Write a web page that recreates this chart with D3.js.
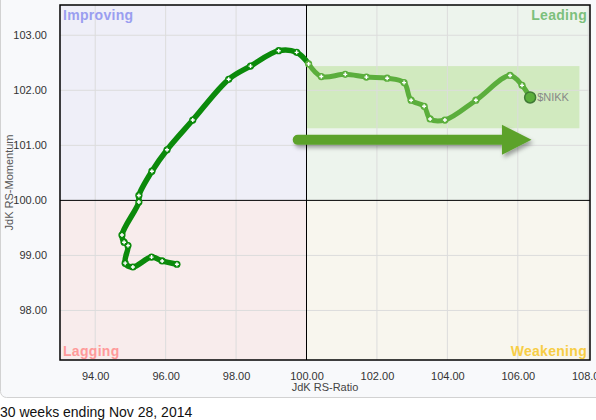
<!DOCTYPE html>
<html>
<head>
<meta charset="utf-8">
<title>RRG $NIKK</title>
<script src="https://cdn.jsdelivr.net/npm/d3@7"></script>
<style>
  body { margin: 0; background: #fff; font-family: "Liberation Sans", Arial, sans-serif; }
  svg { display: block; }
</style>
</head>
<body>
<div id="chart"></div>
<script>
// trail of weekly readings, oldest first (JdK RS-Ratio / JdK RS-Momentum)
var rsRatio = [96.32, 95.90, 95.60, 95.07, 94.85, 94.93, 94.82, 94.76, 95.24, 95.24,
               95.61, 96.04, 96.77, 97.79, 98.41, 99.21, 99.72, 100.06, 100.42, 101.10,
               101.70, 102.29, 102.77, 102.97, 103.34, 103.51, 103.93, 104.81, 105.78, 106.12, 106.35];
var rsMomentum = [98.84, 98.90, 98.97, 98.79, 98.86, 99.18, 99.24, 99.37, 99.97, 100.09,
                  100.53, 100.92, 101.46, 102.20, 102.44, 102.72, 102.69, 102.48, 102.25, 102.29,
                  102.24, 102.22, 102.14, 101.82, 101.71, 101.48, 101.46, 101.82, 102.27, 102.09, 101.87];
var symbol = "$NIKK";
var xTicks = [94, 96, 98, 100, 102, 104, 106, 108];
var yTicks = [98, 99, 100, 101, 102, 103];
var quadrants = ["Improving", "Leading", "Lagging", "Weakening"];
var caption = "30 weeks ending Nov 28, 2014";

var width = 596, height = 420;
var margin = {top: 5, right: 6, bottom: 60, left: 60};

var svg = d3.select("#chart").append("svg")
    .attr("width", width)
    .attr("height", height);

var defs = svg.append("defs");
var shadow = defs.append("filter").attr("id", "shadow")
    .attr("x", "-10%").attr("y", "-50%").attr("width", "120%").attr("height", "200%");
shadow.append("feDropShadow")
    .attr("dx", 2).attr("dy", 3).attr("stdDeviation", 2)
    .attr("flood-color", "#000").attr("flood-opacity", 0.35);

// outer panel
svg.append("rect")
    .attr("x", 0.5).attr("y", -20)
    .attr("width", 640).attr("height", 417.5)
    .attr("rx", 6)
    .attr("fill", "#f8f9fb")
    .attr("stroke", "#d2d2d2");

var x = d3.scaleLinear().domain([93, 108.05]).range([margin.left, 590]);
var y = d3.scaleLinear().domain([97.1, 103.55]).range([360, margin.top]);

var x0 = x.domain()[0], x1 = x.domain()[1], y0 = y.domain()[0], y1 = y.domain()[1];

// quadrant backgrounds
var quadFill = [
  {x0: x0, x1: 100, y0: 100, y1: y1, fill: "#efeff8"},
  {x0: 100, x1: x1, y0: 100, y1: y1, fill: "#edf4ed"},
  {x0: x0, x1: 100, y0: y0, y1: 100, fill: "#f8ecec"},
  {x0: 100, x1: x1, y0: y0, y1: 100, fill: "#f8f6ee"}
];
svg.selectAll(".quad").data(quadFill).enter().append("rect")
    .attr("x", function(d) { return x(d.x0); })
    .attr("y", function(d) { return y(d.y1); })
    .attr("width", function(d) { return x(d.x1) - x(d.x0); })
    .attr("height", function(d) { return y(d.y0) - y(d.y1); })
    .attr("fill", function(d) { return d.fill; });

// highlight band behind recent trail
svg.append("rect")
    .attr("x", x(100)).attr("y", y(102.44))
    .attr("width", x(107.75) - x(100))
    .attr("height", y(101.31) - y(102.44))
    .attr("fill", "#d1eabf");

// grid
svg.append("g").selectAll("line").data(xTicks.filter(function(t) { return t != 100 && t < x1; }))
  .enter().append("line")
    .attr("x1", function(d) { return x(d); }).attr("x2", function(d) { return x(d); })
    .attr("y1", y(y1)).attr("y2", y(y0))
    .attr("stroke", "#dcdcdc");
svg.append("g").selectAll("line").data(yTicks.filter(function(t) { return t != 100; }))
  .enter().append("line")
    .attr("x1", x(x0)).attr("x2", x(x1))
    .attr("y1", function(d) { return y(d); }).attr("y2", function(d) { return y(d); })
    .attr("stroke", "#dcdcdc");

// dividing lines
svg.append("line").attr("x1", x(100)).attr("x2", x(100)).attr("y1", y(y1)).attr("y2", y(y0))
    .attr("stroke", "#000");
svg.append("line").attr("x1", x(x0)).attr("x2", x(x1)).attr("y1", y(100)).attr("y2", y(100))
    .attr("stroke", "#000");

// frame
svg.append("rect")
    .attr("x", x(x0)).attr("y", y(y1))
    .attr("width", x(x1) - x(x0)).attr("height", y(y0) - y(y1))
    .attr("fill", "none").attr("stroke", "#000").attr("stroke-width", 1.5);

// quadrant labels
var qLabel = svg.append("g").style("font-weight", "bold").style("font-size", "14px")
    .style("letter-spacing", "0.3px");
qLabel.append("text").attr("x", x(x0) + 3).attr("y", y(y1) + 15).attr("fill", "#9a9ef0").text(quadrants[0]);
qLabel.append("text").attr("x", x(x1) - 3).attr("y", y(y1) + 15).attr("text-anchor", "end").attr("fill", "#7cc07c").text(quadrants[1]);
qLabel.append("text").attr("x", x(x0) + 3).attr("y", y(y0) - 4).attr("fill", "#ff9a9a").text(quadrants[2]);
qLabel.append("text").attr("x", x(x1) - 3).attr("y", y(y0) - 4).attr("text-anchor", "end").attr("fill", "#f7cd45").text(quadrants[3]);

// axes
var xAxis = svg.append("g")
    .attr("transform", "translate(0," + y(y0) + ")")
    .call(d3.axisBottom(x).tickValues(xTicks).tickFormat(d3.format(".2f")).tickSize(0).tickPadding(12));
var yAxis = svg.append("g")
    .attr("transform", "translate(" + x(x0) + ",0)")
    .call(d3.axisLeft(y).tickValues(yTicks).tickFormat(d3.format(".2f")).tickSize(0).tickPadding(13));
[xAxis, yAxis].forEach(function(a) {
  a.select(".domain").remove();
  a.selectAll("text").attr("fill", "#333").style("font-size", "11px")
    .style("font-family", "'Liberation Sans', Arial, sans-serif");
});

svg.append("text")
    .attr("x", (x(x0) + x(x1)) / 2).attr("y", 391)
    .attr("text-anchor", "middle").attr("fill", "#444").style("font-size", "11px")
    .text("JdK RS-Ratio");
svg.append("text")
    .attr("transform", "translate(13," + ((y(y0) + y(y1)) / 2) + ") rotate(-90)")
    .attr("text-anchor", "middle").attr("fill", "#555").style("font-size", "11px")
    .text("JdK RS-Momentum");

// big direction arrow
var ay = y(101.10), ax0 = x(99.75), axH = x(105.55), axT = x(106.39);
svg.append("path")
    .attr("d", "M" + (ax0) + "," + (ay - 5) +
               "L" + axH + "," + (ay - 5) +
               "L" + axH + "," + (ay - 15) +
               "L" + axT + "," + ay +
               "L" + axH + "," + (ay + 15) +
               "L" + axH + "," + (ay + 5) +
               "L" + ax0 + "," + (ay + 5) +
               "A5,5 0 0,1 " + ax0 + "," + (ay - 5) + "Z")
    .attr("fill", "#5ca22b")
    .attr("filter", "url(#shadow)");

// trail
var pts = rsRatio.map(function(v, i) { return {x: v, y: rsMomentum[i]}; });
var split = 17;
var dark = "#0b8a0b", light = "#5bae3c";
var line = d3.line()
    .x(function(d) { return x(d.x); })
    .y(function(d) { return y(d.y); })
    .curve(d3.curveCatmullRom.alpha(0.5));

svg.append("path").datum(pts.slice(split))
    .attr("d", line).attr("fill", "none").attr("stroke", light)
    .attr("stroke-width", 5).attr("stroke-linecap", "round").attr("stroke-linejoin", "round");
svg.append("path").datum(pts.slice(0, split + 1))
    .attr("d", line).attr("fill", "none").attr("stroke", dark)
    .attr("stroke-width", 5.5).attr("stroke-linecap", "round").attr("stroke-linejoin", "round");

var marks = svg.append("g").selectAll("g").data(pts.slice(0, pts.length - 1)).enter().append("g")
    .attr("transform", function(d) { return "translate(" + x(d.x) + "," + y(d.y) + ")"; });
marks.append("circle").attr("r", 3.6)
    .attr("fill", function(d, i) { return i < split ? dark : light; });
marks.append("path").attr("d", "M-2,0H2M0,-2V2")
    .attr("stroke", "#fff").attr("stroke-width", 1.4);

var last = pts[pts.length - 1];
svg.append("circle")
    .attr("cx", x(last.x)).attr("cy", y(last.y)).attr("r", 5.5)
    .attr("fill", light).attr("stroke", "#3f7a35").attr("stroke-width", 1.5);
svg.append("text")
    .attr("x", x(last.x) + 7).attr("y", y(last.y) + 4)
    .attr("fill", "#888").style("font-size", "11px")
    .text(symbol);

// caption
svg.append("text")
    .attr("x", 0).attr("y", 417)
    .attr("fill", "#111").style("font-size", "14px")
    .text(caption);
</script>
</body>
</html>
